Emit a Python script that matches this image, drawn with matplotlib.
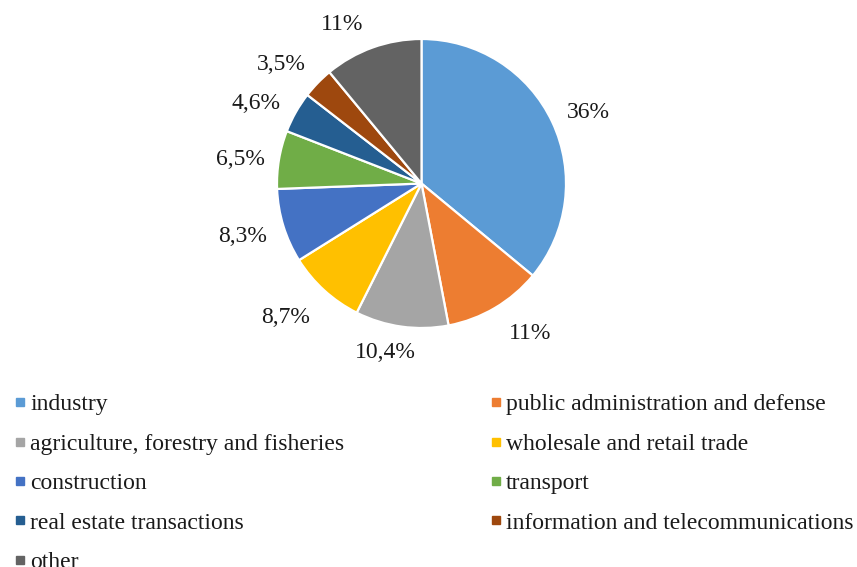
import numpy as np
import matplotlib
matplotlib.use("Agg")
import matplotlib.pyplot as plt
from matplotlib.lines import Line2D

plt.rcParams["font.family"] = ["Liberation Serif", "DejaVu Serif"]

categories = [
    "industry",
    "public administration and defense",
    "agriculture, forestry and fisheries",
    "wholesale and retail trade",
    "construction",
    "transport",
    "real estate transactions",
    "information and telecommunications",
    "other",
]
shares = [36, 11, 10.4, 8.7, 8.3, 6.5, 4.6, 3.5, 11]
pct_labels = ["36%", "11%", "10,4%", "8,7%", "8,3%", "6,5%", "4,6%", "3,5%", "11%"]
colors = ["#5B9BD5", "#ED7D31", "#A5A5A5", "#FFC000", "#4472C4",
          "#70AD47", "#255E91", "#9E480E", "#636363"]

W, H, DPI = 857, 567, 100
R_PX = 144.5
CX, CY = 421.5, 183.5

# small hand nudges (in points, y up) for the outside labels
label_nudge = [(-1, -6), (12, 4), (-9, 1), (-9, 1), (-1, 1),
               (1, -5), (-3, -8), (-6, -6), (-14, -5)]

fig = plt.figure(figsize=(W / DPI, H / DPI), dpi=DPI)
ax = fig.add_axes([0, 0, 1, 1])

wedges, _ = ax.pie(shares, colors=colors, startangle=90, counterclock=False,
                   radius=1.0, wedgeprops=dict(edgecolor="white", linewidth=1.6))
# pie() resets the limits, so fix the canvas afterwards
ax.set_xlim(-CX / R_PX, (W - CX) / R_PX)
ax.set_ylim(-(H - CY) / R_PX, CY / R_PX)
ax.set_aspect("auto")
ax.axis("off")

# percentage labels just outside each wedge
for w, lab, (dx, dy) in zip(wedges, pct_labels, label_nudge):
    th = np.deg2rad((w.theta1 + w.theta2) / 2)
    c, s = np.cos(th), np.sin(th)
    r = 1.1 + 0.17 * abs(c) + 0.07 * abs(s)
    ax.annotate(lab, (r * c, r * s), xytext=(dx, dy), textcoords="offset points",
                ha="center", va="center", fontsize=17, color="#1a1a1a")

# legend filled row by row: reorder for column-major layout
order = [0, 2, 4, 6, 8, 1, 3, 5, 7]
handles = [Line2D([], [], marker="s", ls="none", markersize=5.8,
                  markerfacecolor=colors[i], markeredgecolor=colors[i]) for i in order]
fig.legend(handles, [categories[i] for i in order], ncol=2, loc="upper left",
           bbox_to_anchor=(2 / W, 1 - 382 / H), frameon=False, fontsize=17,
           handlelength=0.5, handletextpad=0.2, columnspacing=6.15,
           labelspacing=0.76, borderpad=0, labelcolor="#1a1a1a")

fig.savefig("out.png", dpi=DPI, facecolor="white")
